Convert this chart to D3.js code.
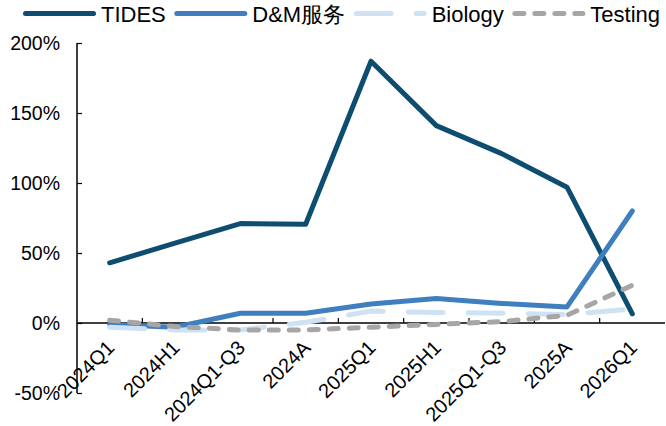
<!DOCTYPE html>
<html>
<head>
<meta charset="utf-8">
<script src="https://cdn.jsdelivr.net/npm/d3@7"></script>
<style>
  body { margin: 0; background: #fff; }
  svg { display: block; font-family: "Liberation Sans", Arial, sans-serif; }
</style>
</head>
<body>
<svg id="chart" width="666" height="426"></svg>
<script>
// data (growth, %)
var categories = ["2024Q1", "2024H1", "2024Q1-Q3", "2024A", "2025Q1", "2025H1", "2025Q1-Q3", "2025A", "2026Q1"];
var tides = [43, 57, 71, 70.5, 187, 141, 121, 97, 6.5];
var dm = [-1, -3, 7, 7, 13.5, 17.5, 14, 11.5, 80];
var biology = [-3, -5, -5, 0.5, 8.5, 7.5, 7, 6, 10];
var testing = [2, -2.5, -5, -5, -3, -1, 1, 5.5, 27];
var yTicks = [-50, 0, 50, 100, 150, 200];

var series = [
  {name: "TIDES", values: tides, color: "#0d4d70", dash: null},
  {name: "D&M服务", values: dm, color: "#3f7fc0", dash: null},
  {name: "Biology", values: biology, color: "#cfe2f3", dash: "35,25"},
  {name: "Testing", values: testing, color: "#a6a6a6", dash: "9,11"}
];

var svg = d3.select("#chart");

var x = d3.scaleBand().domain(categories).range([77, 665]);
var y = d3.scaleLinear().domain([-50, 200]).range([393, 43]);

// y axis
var yAxis = svg.append("g")
  .attr("transform", "translate(77,0)")
  .call(d3.axisRight(y).tickValues(yTicks).tickSize(5).tickFormat(function(d) { return d + "%"; }));
yAxis.select(".domain").attr("stroke", "#000").attr("stroke-width", 1.5).attr("d", "M0," + y(-50) + "V" + y(200));
yAxis.selectAll(".tick line").attr("stroke", "#000").attr("stroke-width", 1.2);
yAxis.selectAll(".tick text")
  .attr("x", -17)
  .attr("text-anchor", "end")
  .attr("font-size", 19.5)
  .attr("font-family", "Liberation Sans, Arial, sans-serif")
  .attr("fill", "#000");

// x axis on the zero line, ticks at category boundaries
var xAxisG = svg.append("g").attr("transform", "translate(0," + y(0) + ")");
xAxisG.append("line")
  .attr("x1", 77).attr("x2", 665)
  .attr("stroke", "#000").attr("stroke-width", 1.5);
xAxisG.selectAll(".xtick")
  .data(categories.slice(1))
  .enter().append("line")
  .attr("class", "xtick")
  .attr("x1", function(d) { return x(d); })
  .attr("x2", function(d) { return x(d); })
  .attr("y1", 0).attr("y2", -5)
  .attr("stroke", "#000").attr("stroke-width", 1.2);

// lines
var line = d3.line()
  .x(function(d, i) { return x(categories[i]) + x.bandwidth() / 2; })
  .y(function(d) { return y(d); });

series.forEach(function(s) {
  svg.append("path")
    .datum(s.values)
    .attr("d", line)
    .attr("fill", "none")
    .attr("stroke", s.color)
    .attr("stroke-width", 5)
    .attr("stroke-linecap", "round")
    .attr("stroke-linejoin", "round")
    .attr("stroke-dasharray", s.dash);
});

// category labels (rotated)
svg.append("g").selectAll("text")
  .data(categories)
  .enter().append("text")
  .attr("transform", function(d) {
    return "translate(" + (x(d) + x.bandwidth() / 2 + 1) + "," + (y(0) + 21) + ") rotate(-45)";
  })
  .attr("text-anchor", "end")
  .attr("dy", "0.35em")
  .attr("font-size", 20)
  .text(function(d) { return d; });

// legend
var legend = svg.append("g");
var lx = 23;
series.forEach(function(s) {
  var g = legend.append("g");
  g.append("line")
    .attr("x1", lx + 2.5).attr("x2", lx + 70.5)
    .attr("y1", 13.5).attr("y2", 13.5)
    .attr("stroke", s.color)
    .attr("stroke-width", 5)
    .attr("stroke-linecap", "round")
    .attr("stroke-dasharray", s.dash);
  var t = g.append("text")
    .attr("x", lx + 78)
    .attr("y", 21.5)
    .attr("font-size", 22)
    .text(s.name);
  lx = lx + 78 + t.node().getComputedTextLength() + 8.5;
});
</script>
</body>
</html>
